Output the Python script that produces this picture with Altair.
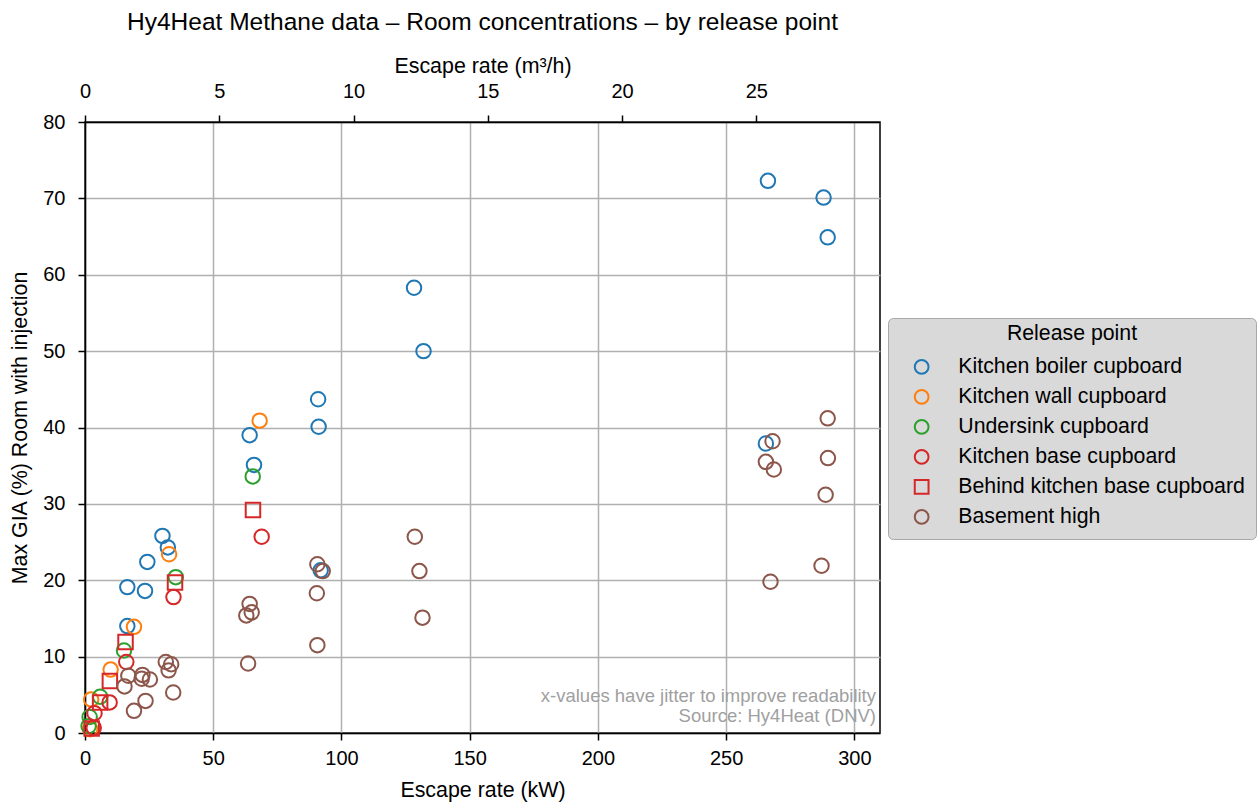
import altair as alt
import pandas as pd

# Release point categories, in plotting order
series = [
    "Kitchen boiler cupboard",
    "Kitchen wall cupboard",
    "Undersink cupboard",
    "Kitchen base cupboard",
    "Behind kitchen base cupboard",
    "Basement high",
]
colors = ["#1f77b4", "#ff7f0e", "#2ca02c", "#d62728", "#d62728", "#8c564b"]
shapes = ["circle", "circle", "circle", "circle", "square", "circle"]

# Escape rate (kW, jittered) and max GIA (%) per release point
boiler_kw = [16.5, 23.4, 24.3, 30.2, 32.3, 16.5, 64.2, 65.9, 90.9, 91.1, 91.9, 128.3, 132.0, 266.3, 288.0, 289.6, 265.5]
boiler_gia = [19.1, 18.6, 22.4, 25.8, 24.3, 14.0, 39.0, 35.1, 43.7, 40.1, 21.3, 58.3, 50.0, 72.3, 70.1, 64.9, 37.9]

wall_kw = [2.0, 2.4, 10.0, 19.1, 32.8, 68.1]
wall_gia = [0.5, 4.4, 8.3, 13.9, 23.4, 40.9]

sink_kw = [1.4, 1.8, 5.9, 15.2, 35.4, 65.4]
sink_gia = [0.9, 2.1, 4.75, 10.8, 20.4, 33.6]

base_kw = [3.4, 3.7, 9.6, 16.1, 34.5, 68.9]
base_gia = [0.7, 2.6, 4.0, 9.3, 17.8, 25.7]

behind_kw = [2.6, 5.9, 9.7, 15.8, 35.1, 65.5]
behind_gia = [0.6, 4.0, 6.8, 11.9, 19.7, 29.2]

basement_kw = [19.1, 23.6, 34.4, 15.4, 16.9, 22.1, 22.4, 25.3, 31.5, 33.6, 32.6,
               63.6, 62.9, 65.0, 64.2, 90.6, 90.4, 90.6, 92.7, 128.6, 130.4, 131.6,
               265.5, 268.1, 268.6, 267.3, 287.2, 288.8, 289.6, 289.7]
basement_gia = [2.9, 4.2, 5.3, 6.1, 7.5, 7.1, 7.6, 7.0, 9.3, 9.0, 8.2,
                9.1, 15.4, 15.8, 16.9, 11.5, 18.3, 22.1, 21.2, 25.7, 21.2, 15.1,
                35.5, 38.2, 34.5, 19.8, 21.9, 31.2, 41.2, 36.0]

x_ticks = [0, 50, 100, 150, 200, 250, 300]
y_ticks = [0, 10, 20, 30, 40, 50, 60, 70, 80]
top_ticks = [0, 5, 10, 15, 20, 25]
KW_PER_M3H = 10.47  # methane calorific value, kWh per m³
X_MAX = 310

notes = ["x-values have jitter to improve readability", "Source: Hy4Heat (DNV)"]

frames = []
for name, kw, gia in [
    (series[0], boiler_kw, boiler_gia),
    (series[1], wall_kw, wall_gia),
    (series[2], sink_kw, sink_gia),
    (series[3], base_kw, base_gia),
    (series[4], behind_kw, behind_gia),
    (series[5], basement_kw, basement_gia),
]:
    frames.append(pd.DataFrame({"kw": kw, "gia": gia, "release": name}))
df = pd.concat(frames, ignore_index=True)
df["order"] = range(len(df))

FONT = "Liberation Sans"
TICK_FS = 20
LABEL_FS = 21.4
LEGEND_FS = 21.3

legend = alt.Legend(
    title="Release point",
    orient="none",
    legendX=803,
    legendY=196,
    fillColor="#d9d9d9",
    strokeColor="#a8a8a8",
    cornerRadius=5,
    padding=11,
    symbolOffset=12,
    labelOffset=26,
    rowPadding=7.0,
    titlePadding=6,
    titleAnchor="middle",
    titleBaseline="line-top",
    titleLineHeight=10.5,
    titleFontWeight="normal",
    titleFontSize=LEGEND_FS,
    titleFont=FONT,
    titleColor="black",
    labelFontSize=LEGEND_FS,
    labelFont=FONT,
    labelColor="black",
    labelLimit=400,
    symbolSize=190,
    symbolStrokeWidth=2,
)

y_scale = alt.Scale(domain=[0, 80], nice=False, zero=False)

points = alt.Chart(df).mark_point(filled=False, size=210, strokeWidth=2, opacity=1).encode(
    x=alt.X(
        "kw:Q",
        scale=alt.Scale(domain=[0, X_MAX], nice=False, zero=False),
        axis=alt.Axis(title="Escape rate (kW)", values=x_ticks, orient="bottom",
                      labelPadding=8, titlePadding=11, labelFlush=False, grid=True),
    ),
    y=alt.Y(
        "gia:Q",
        scale=y_scale,
        axis=alt.Axis(title="Max GIA (%) Room with injection", values=y_ticks, orient="left",
                      titlePadding=12, labelPadding=13, grid=True, labelFlush=False),
    ),
    color=alt.Color("release:N", scale=alt.Scale(domain=series, range=colors), legend=legend),
    shape=alt.Shape("release:N", scale=alt.Scale(domain=series, range=shapes), legend=legend),
    order=alt.Order("order:Q"),
)

# Secondary axis on top: same escape rate in m³/h
top_df = pd.DataFrame({"m3h": top_ticks, "gia": [0] * len(top_ticks)})
top_axis = alt.Chart(top_df).mark_point(opacity=0).encode(
    x=alt.X(
        "m3h:Q",
        scale=alt.Scale(domain=[0, X_MAX / KW_PER_M3H], nice=False, zero=False),
        axis=alt.Axis(title="Escape rate (m³/h)", values=top_ticks, orient="top",
                      grid=False, labelPadding=14, titlePadding=5, labelFlush=False),
    ),
    y=alt.Y("gia:Q", scale=y_scale, axis=None),
)

# Footnotes in the lower right corner of the plot, one line per row
note_df = pd.DataFrame({"t": notes, "row": [0, 1]})
note_layer = alt.Chart(note_df).mark_text(
    align="right", baseline="middle", fontSize=18.5, font=FONT, color="#a0a0a0"
).encode(
    text="t:N",
    x=alt.value(791),
    y=alt.Y("row:Q", scale=alt.Scale(domain=[0, 1], range=[574, 594]), axis=None),
)

chart = (
    alt.layer(points, top_axis, note_layer)
    .resolve_scale(x="independent", y="independent")
    .properties(
        width=795,
        height=611,
        title=alt.TitleParams(
            "Hy4Heat Methane data – Room concentrations – by release point",
            fontSize=24.5,
            font=FONT,
            fontWeight="normal",
            color="black",
            anchor="middle",
            offset=20,
        ),
        autosize=alt.AutoSizeParams(type="none"),
        padding={"left": 85, "top": 122, "right": 378, "bottom": 70},
    )
    .configure_view(stroke="black", strokeWidth=1.5)
    .configure_axis(
        labelFont=FONT,
        labelFontSize=TICK_FS,
        labelColor="black",
        titleFont=FONT,
        titleFontSize=LABEL_FS,
        titleFontWeight="normal",
        titleColor="black",
        domainColor="black",
        domainWidth=1.5,
        tickColor="black",
        tickWidth=1.5,
        tickSize=7,
        gridColor="#b0b0b0",
        gridWidth=1.5,
    )
)

chart.save("out.html", embed_options={"renderer": "svg", "actions": False})
